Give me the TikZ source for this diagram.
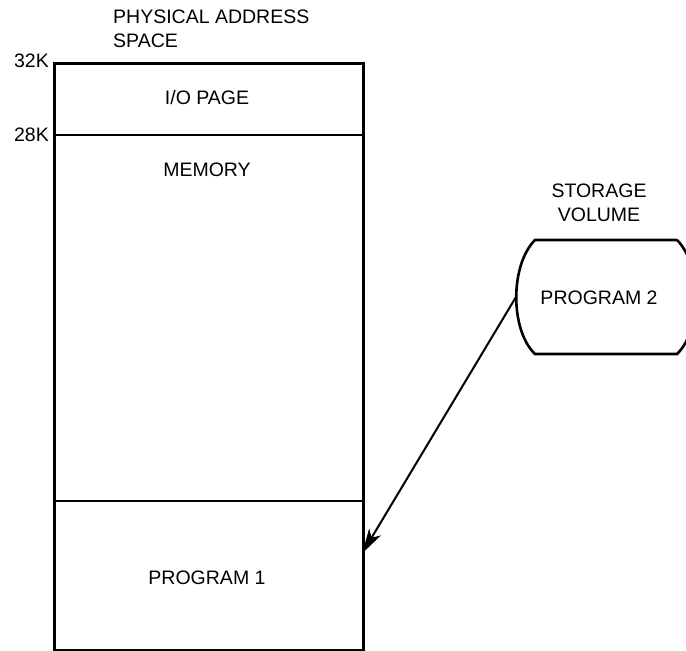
\documentclass[tikz,border=0pt]{standalone}
\usepackage{fontspec}
\setmainfont{Liberation Sans}
\usetikzlibrary{calc}
\tikzset{
  box/.style={draw, line width=2.6pt, inner sep=0pt},
  lbl/.style={font=\fontsize{19.5}{24}\selectfont, inner sep=0pt},
  sep/.style={line width=1.8pt},
  link/.style={line width=2pt, shorten >=12pt},
  headfill/.style={fill=black, draw=black, line width=0.8pt, line join=miter}
}
\begin{document}
\begin{tikzpicture}[x=1pt,y=1pt]
\useasboundingbox (0,0) rectangle (686,-651);
\clip (0,0) rectangle (686,-651);
% memory column
\node[box, minimum width=309pt, minimum height=587pt, anchor=north west] (mem) at (53,-62) {};
\coordinate (s28l) at (53,-135);
\coordinate (s28r) at (362,-135);
\coordinate (sp1l) at (53,-501);
\coordinate (sp1r) at (362,-501);
\draw[sep] (s28l) -- (s28r);
\draw[sep] (sp1l) -- (sp1r);
% labels
\node[lbl, align=left, anchor=north west] (title) at (113,-10) {PHYSICAL ADDRESS\\SPACE};
\node[lbl, anchor=east] (k32) at (49,-61) {32K};
\node[lbl, anchor=east] (k28) at (49,-135) {28K};
\node[lbl] (io) at (207,-98) {I/O PAGE};
\node[lbl] (memtxt) at (207,-170) {MEMORY};
\node[lbl] (p1) at (207,-578) {PROGRAM 1};
% storage volume
\draw[line width=2.6pt] (677,-240) -- (535,-240)
  .. controls (510,-265) and (510,-330) .. (535,-354) -- (677,-354)
  .. controls (702,-330) and (702,-265) .. (677,-240);
\coordinate (svl) at (516,-297);
\node[lbl, align=center] (svt) at (599,-203) {STORAGE\\VOLUME};
\node[lbl] (p2) at (599,-298) {PROGRAM 2};
% arrow
\coordinate (tip) at (363,-552);
\draw[link] (svl) -- (tip);
\coordinate (hb) at ($(tip)!22pt!(svl)$);
\coordinate (hin) at ($(tip)!16pt!(svl)$);
\fill[headfill] (tip) -- ($(hb)!6pt!90:(tip)$) -- (hin) -- ($(hb)!6pt!-90:(tip)$) -- cycle;
\end{tikzpicture}
\end{document}
